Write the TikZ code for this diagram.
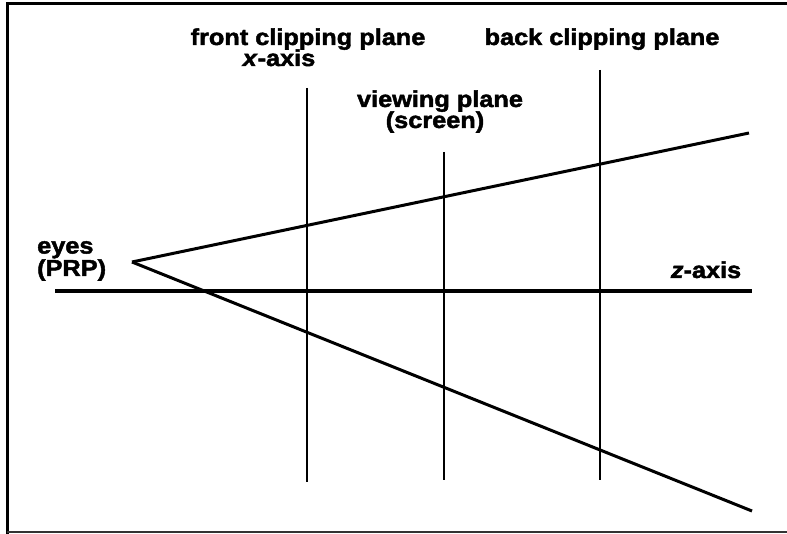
\documentclass[tikz,border=0pt]{standalone}
\usepackage{fontspec}
\setmainfont{Liberation Sans}[FakeStretch=1.1,FakeBold=2]
\begin{document}
\begin{tikzpicture}[x=1pt,y=-1pt,
  lbl/.style={font=\bfseries\fontsize{23}{24}\selectfont,inner sep=0pt,anchor=base,align=center},
  ray/.style={line width=3pt,black},
  plane/.style={line width=2pt,black},
  frame/.style={line width=3pt,black}]
\useasboundingbox (0,0) rectangle (787,534);
% frame
\coordinate (ftl) at (7,4);
\coordinate (ftr) at (787,4);
\coordinate (fbl) at (7,534);
\coordinate (bl) at (7,532);
\coordinate (br) at (787,532);
\draw[frame] (ftr) -- (ftl) -- (fbl);
\draw[line width=2.5pt,black!80] (bl) -- (br);
% geometry
\coordinate (eye) at (132,262);
\coordinate (zl) at (55,291);
\coordinate (zr) at (752,291);
\coordinate (up) at (749,133);
\coordinate (lo) at (752,511);
\coordinate (ft) at (307,88);
\coordinate (fb) at (307,482);
\coordinate (vt) at (444,152);
\coordinate (vb) at (444,480);
\coordinate (bt) at (600,70);
\coordinate (bb) at (600,480);
\draw[line width=3.5pt] (zl) -- (zr);
\draw[ray] (eye) -- (up);
\draw[ray] (eye) -- (lo);
\draw[plane] (ft) -- (fb);
\draw[plane] (vt) -- (vb);
\draw[plane] (bt) -- (bb);
% labels
\node[lbl] (tfront) at (308,45) {front clipping plane};
\node[lbl] (txaxis) at (279,66) {\textit{x}-axis};
\node[lbl] (tback) at (602,45) {back clipping plane};
\node[lbl] (tview) at (440,107) {viewing plane};
\node[lbl] (tscreen) at (435,128) {(screen)};
\node[lbl,anchor=base west,align=left,font=\bfseries\fontsize{23}{20}\selectfont] (teyes) at (37,276) {eyes\\(PRP)};
\node[lbl] (tz) at (706,278) {\textit{z}-axis};
\end{tikzpicture}
\end{document}
